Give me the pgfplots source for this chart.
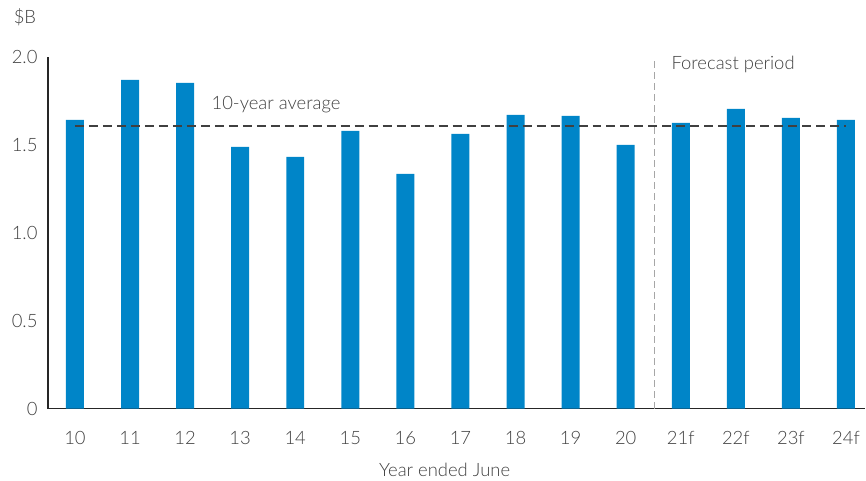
\documentclass[border=0pt]{standalone}
\usepackage{pgfplots}
\pgfplotsset{compat=1.18}
\usepackage{fontspec}
\setmainfont{Lato}[UprightFont=* Light]
\definecolor{barblue}{HTML}{0085C8}
\definecolor{txt}{HTML}{404040}
\begin{document}
\begin{tikzpicture}
\pgfplotstableread{
x v
0 1.642
1 1.870
2 1.852
3 1.489
4 1.432
5 1.580
6 1.335
7 1.562
8 1.670
9 1.665
10 1.500
11 1.625
12 1.705
13 1.653
14 1.642
}\data
\begin{axis}[
  scale only axis,
  width=818bp, height=352bp,
  xmin=-0.49, xmax=14.35,
  ymin=0, ymax=2,
  axis lines*=left,
  axis line style={black!85, line width=1.5pt, -},
  xtick={0,...,14},
  xticklabels={10,11,12,13,14,15,16,17,18,19,20,21f,22f,23f,24f},
  ytick={0,0.5,1,1.5,2},
  yticklabels={0,0.5,1.0,1.5,2.0},
  major tick length=0pt,
  tick label style={font=\fontsize{18.5}{22}\selectfont, text=txt},
  xticklabel style={yshift=-19bp},
  yticklabel style={xshift=-7bp},
  xlabel={Year ended June},
  xlabel style={font=\fontsize{18.5}{22}\selectfont, text=txt, yshift=-12bp, xshift=-12bp},
  clip=false,
]
\addplot[ybar, bar width=18bp, fill=barblue, draw=none] table[x=x,y=v] {\data};
\addplot[gray!70, line width=1pt, dash pattern=on 7bp off 4bp] coordinates {(10.52,0) (10.52,2)};
\addplot[black!75, line width=2pt, dash pattern=on 9bp off 5bp] coordinates {(0,1.61) (14,1.61)};
\node[font=\fontsize{18.5}{22}\selectfont, text=txt] at (axis cs:3.65,1.727) {10-year average};
\node[font=\fontsize{18.5}{22}\selectfont, text=txt] at (axis cs:11.95,1.96) {Forecast period};
\node[font=\fontsize{18.5}{22}\selectfont, text=txt] at ([shift={(-23bp,40bp)}]rel axis cs:0,1) {\$B};
\end{axis}
\path (current axis.south west) ++(-48bp,-71bp) rectangle ([shift={(0bp,57bp)}]current axis.north east);
\end{tikzpicture}
\end{document}
